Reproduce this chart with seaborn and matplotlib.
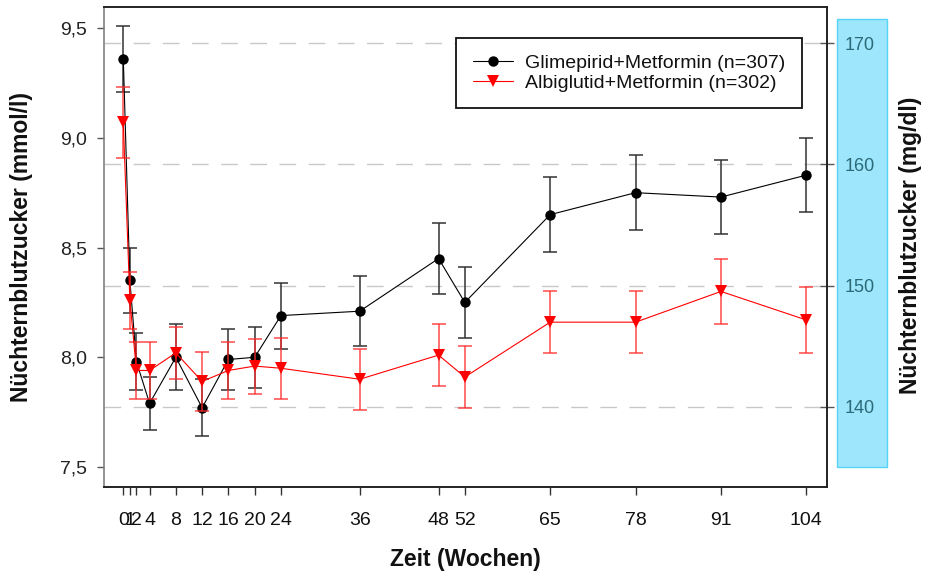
import matplotlib
matplotlib.use("Agg")
import matplotlib.pyplot as plt
from matplotlib.patches import Rectangle
import seaborn as sns
import pandas as pd

# ---------------- data ----------------
weeks = [0, 1, 2, 4, 8, 12, 16, 20, 24, 36, 48, 52, 65, 78, 91, 104]
week_labels = [str(w) for w in weeks]
glim = [9.36, 8.35, 7.98, 7.79, 8.00, 7.77, 7.99, 8.00, 8.19, 8.21, 8.45, 8.25, 8.65, 8.75, 8.73, 8.83]
glim_err = [0.15, 0.15, 0.13, 0.12, 0.15, 0.13, 0.14, 0.14, 0.15, 0.16, 0.16, 0.16, 0.17, 0.17, 0.17, 0.17]
albi = [9.07, 8.26, 7.94, 7.94, 8.02, 7.89, 7.94, 7.96, 7.95, 7.90, 8.01, 7.91, 8.16, 8.16, 8.30, 8.17]
albi_err = [0.16, 0.13, 0.13, 0.13, 0.12, 0.135, 0.13, 0.125, 0.14, 0.14, 0.14, 0.14, 0.14, 0.14, 0.15, 0.15]
label_glim = "Glimepirid+Metformin (n=307)"
label_albi = "Albiglutid+Metformin (n=302)"
left_ticks = [7.5, 8.0, 8.5, 9.0, 9.5]
left_tick_labels = ["7,5", "8,0", "8,5", "9,0", "9,5"]
right_ticks = [140, 150, 160, 170]

df_g = pd.DataFrame({"week": weeks, "value": glim, "err": glim_err})
df_a = pd.DataFrame({"week": weeks, "value": albi, "err": albi_err})

# ---------------- style ----------------
sns.set_style("ticks")
plt.rcParams["font.family"] = ["Liberation Sans", "DejaVu Sans"]

fig = plt.figure(figsize=(9.25, 5.77), dpi=100)
pos = [104 / 925, 1 - 487 / 577, 722.7 / 925, 480 / 577]
ax2 = fig.add_axes(pos)
ax = fig.add_axes(pos)
ax2.set_zorder(0)
ax.set_zorder(1)
ax.patch.set_visible(False)

ylo, yhi = 7.409, 9.596
xlo, xhi = -2.94, 107.1

# ---- background axis (right mg/dl scale + dashed grid) ----
ax2.set_xlim(xlo, xhi)
ax2.set_ylim(133.4, 172.97)
ax2.set_xticks([])
ax2.set_yticks(right_ticks)
ax2.set_yticklabels([str(t) for t in right_ticks])
ax2.yaxis.tick_right()
ax2.tick_params(axis="y", direction="inout", length=9.4, width=1.0, color="#555555",
                pad=8.3, labelsize=13, labelcolor="#2b6a78")
for s in ax2.spines.values():
    s.set_visible(False)
ax2.grid(axis="y", color="#c8c8c8", linewidth=1.0, linestyle=(0, (12, 9)))
ax2.set_facecolor("white")

# cyan band behind right tick labels
fig.patches.append(Rectangle((837 / 925, 1 - 467 / 577), 50 / 925, 448 / 577,
                             transform=fig.transFigure, facecolor="#9ee6fb",
                             edgecolor="#55d4f5", linewidth=1.0, zorder=-1))

# ---- main data ----
ax.errorbar(df_g["week"], df_g["value"], yerr=df_g["err"], fmt="none",
            ecolor="#333333", elinewidth=1.1, capsize=5, capthick=1.1, zorder=2)
sns.lineplot(data=df_g, x="week", y="value", color="black", linewidth=0.8,
             marker="o", markersize=7.5, markeredgewidth=0, errorbar=None,
             label=label_glim, ax=ax, zorder=3)
ax.errorbar(df_a["week"], df_a["value"], yerr=df_a["err"], fmt="none",
            ecolor="#ff2a2a", elinewidth=1.1, capsize=5, capthick=1.1, zorder=4, alpha=0.85)
sns.lineplot(data=df_a, x="week", y="value", color="red", linewidth=0.8,
             marker="v", markersize=9, markeredgewidth=0, errorbar=None,
             label=label_albi, ax=ax, zorder=5)

ax.set_xlim(xlo, xhi)
ax.set_ylim(ylo, yhi)
ax.set_xticks(weeks)
ax.set_xticklabels(week_labels)
ax.set_yticks(left_ticks)
ax.set_yticklabels(left_tick_labels)
ax.tick_params(axis="x", direction="out", length=6, width=1.0, color="#333333",
               pad=12, labelsize=14, labelcolor="#111111")
ax.tick_params(axis="y", direction="out", length=5, width=1.0, color="#555555",
               pad=7, labelsize=14, labelcolor="#222222")

for side in ["top", "right", "bottom"]:
    ax.spines[side].set_visible(True)
    ax.spines[side].set_color("#222222")
    ax.spines[side].set_linewidth(1.4)
ax.spines["left"].set_color("#777777")
ax.spines["left"].set_linewidth(1.1)

ax.set_xlabel("Zeit (Wochen)", fontsize=16.5, fontweight="bold", color="#111111")
ax.xaxis.set_label_coords(0.5, -0.128)
ax.set_ylabel("Nüchternblutzucker (mmol/l)", fontsize=16.5, fontweight="bold", color="#111111")
ax.yaxis.set_label_coords(-0.098, 0.5)

fig.text(910 / 925, 1 - 245 / 577, "Nüchternblutzucker (mg/dl)", rotation=90,
         ha="center", va="center", fontsize=16.5, fontweight="bold", color="#111111")

handles, labels = ax.get_legend_handles_labels()
leg = ax.legend(handles, labels, loc="upper left",
                bbox_to_anchor=(456 / 925, 1 - 38 / 577), bbox_transform=fig.transFigure,
                fontsize=14, frameon=True, fancybox=False, framealpha=1,
                borderpad=0.85, labelspacing=0.1, handlelength=2.1, handletextpad=0.6,
                borderaxespad=0)
leg.get_frame().set_edgecolor("#111111")
leg.get_frame().set_linewidth(1.3)
for t in leg.get_texts():
    t.set_color("#111111")

fig.savefig("out.png", dpi=100)
